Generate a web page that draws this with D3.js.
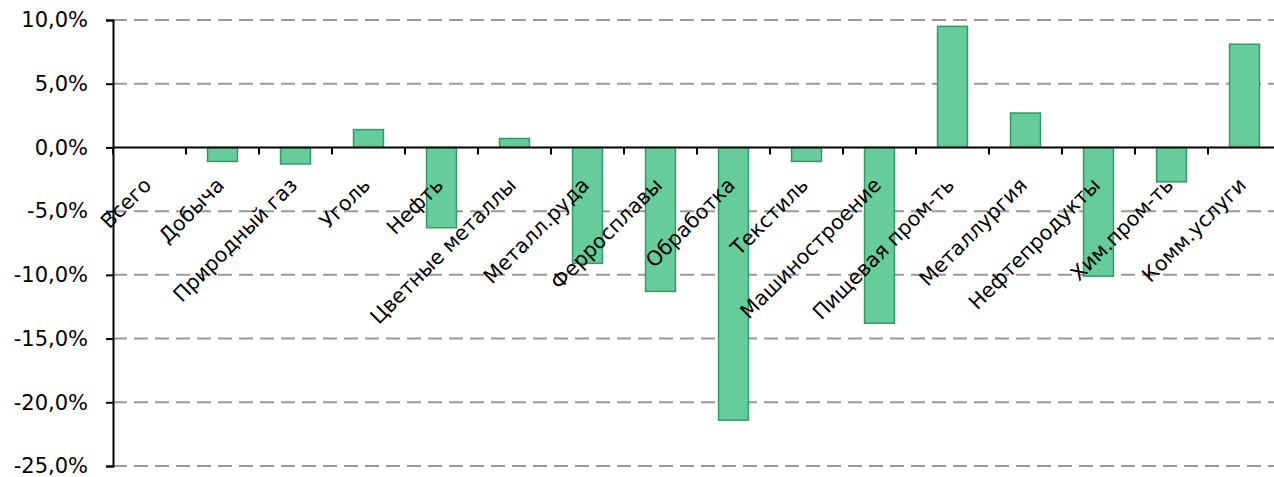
<!DOCTYPE html>
<html>
<head>
<meta charset="utf-8">
<script src="https://cdn.jsdelivr.net/npm/d3@7"></script>
<style>
  body { margin: 0; background: #fff; }
  svg { display: block; font-family: Verdana, "DejaVu Sans", sans-serif; }
</style>
</head>
<body>
<div id="chart"></div>
<script>
const categories = [
  "Всего", "Добыча", "Природный газ", "Уголь", "Нефть", "Цветные металлы",
  "Металл.руда", "Ферросплавы", "Обработка", "Текстиль", "Машиностроение",
  "Пищевая пром-ть", "Металлургия", "Нефтепродукты", "Хим.пром-ть", "Комм.услуги"
];
const values = [0, -1.1, -1.3, 1.4, -6.3, 0.7, -9.1, -11.3, -21.4, -1.1, -13.8, 9.5, 2.7, -10.1, -2.7, 8.1];
const yTicks = [10, 5, 0, -5, -10, -15, -20, -25];

const width = 1274;
const height = 477;
const margin = { top: 20, right: -7, bottom: 11, left: 113 };

const svg = d3.select("#chart").append("svg")
  .attr("width", width)
  .attr("height", height);

const x = d3.scaleBand()
  .domain(categories)
  .range([margin.left, width - margin.right])
  .paddingInner(0)
  .paddingOuter(0);

const y = d3.scaleLinear()
  .domain([-25, 10])
  .range([height - margin.bottom, margin.top]);

const fmt = d => d.toFixed(1).replace(".", ",") + "%";

// dashed grid
svg.append("g")
  .selectAll("line")
  .data(yTicks.filter(d => d !== 0))
  .join("line")
  .attr("x1", margin.left)
  .attr("x2", width)
  .attr("y1", d => y(d))
  .attr("y2", d => y(d))
  .attr("stroke", "#999")
  .attr("stroke-width", 2)
  .attr("stroke-dasharray", "14,7");

// bars
const barW = x.bandwidth() * 0.41;
svg.append("g")
  .selectAll("rect")
  .data(categories.map((c, i) => ({ c, v: values[i] })).filter(d => d.v !== 0))
  .join("rect")
  .attr("x", d => x(d.c) + (x.bandwidth() - barW) / 2)
  .attr("width", barW)
  .attr("y", d => y(Math.max(0, d.v)))
  .attr("height", d => Math.abs(y(d.v) - y(0)))
  .attr("fill", "#66cc99")
  .attr("stroke", "#339966")
  .attr("stroke-width", 1.5);

// y axis
const yAxis = svg.append("g")
  .attr("transform", `translate(${margin.left},0)`)
  .call(d3.axisLeft(y).tickValues(yTicks).tickFormat(fmt).tickSize(7).tickPadding(18));
yAxis.select(".domain").attr("stroke", "#000").attr("stroke-width", 2);
yAxis.selectAll(".tick line").attr("stroke", "#000").attr("stroke-width", 2);
yAxis.selectAll(".tick text")
  .attr("fill", "#000")
  .style("font-size", "21px")
  .style("font-family", "Verdana, 'DejaVu Sans', sans-serif");

// x axis at zero
const xAxis = svg.append("g")
  .attr("transform", `translate(0,${y(0)})`);
xAxis.append("line")
  .attr("x1", margin.left)
  .attr("x2", width)
  .attr("stroke", "#000")
  .attr("stroke-width", 2);
xAxis.selectAll("line.tk")
  .data(categories)
  .join("line")
  .attr("class", "tk")
  .attr("x1", d => x(d))
  .attr("x2", d => x(d))
  .attr("y1", 0)
  .attr("y2", 7)
  .attr("stroke", "#000")
  .attr("stroke-width", 2);

xAxis.selectAll("text")
  .data(categories)
  .join("text")
  .attr("text-anchor", "end")
  .attr("transform", d => `translate(${x(d) + x.bandwidth() / 2 + 3},${39}) rotate(-45)`)
  .style("font-size", "20.5px")
  .attr("fill", "#000")
  .text(d => d);
</script>
</body>
</html>
